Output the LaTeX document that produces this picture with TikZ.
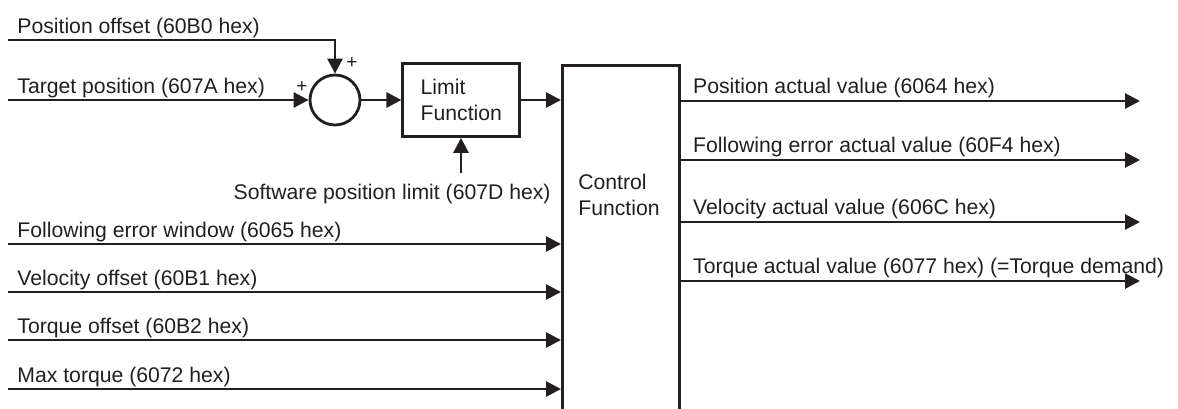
\documentclass[tikz,border=0pt]{standalone}
\usepackage{fontspec}
\setmainfont{Liberation Sans}
\usetikzlibrary{arrows.meta, positioning}

\definecolor{ink}{HTML}{231F20}

\tikzset{
    arr/.style={-{Triangle[length=7.5pt, width=7.5pt]}},
    lbl/.style={anchor=base west, inner sep=0pt,
        font=\fontsize{10.6}{12.7}\selectfont},
    sign/.style={inner sep=0pt, font=\fontsize{9.5}{11}\selectfont}
}

\begin{document}
\begin{tikzpicture}[x=0.5pt, y=-0.5pt, node distance=20pt, line width=1.4pt, color=ink]

    \useasboundingbox (0,0) rectangle (1178,408);
    \clip (0,0) rectangle (1178,408);

    \node[draw, circle, minimum size=25pt, inner sep=0pt] (sum) at (335,100) {};

    \node[
        draw,
        rectangle,
        minimum width=58.5pt,
        minimum height=36.5pt,
        align=left,
        font=\fontsize{10.6}{12.7}\selectfont,
        right=of sum
    ] (limit) {Limit\\Function};

    \node[
        draw,
        rectangle,
        minimum width=58.5pt,
        minimum height=185pt,
        anchor=north west
    ] (control) at (561,64) {};
    \node[align=left, font=\fontsize{10.6}{12.7}\selectfont]
        (ctrltext) at (619,195) {Control\\Function};

    % inputs on the left
    \coordinate (posoff) at (8,40);
    \coordinate (target) at (8,100);
    \node[lbl] at ([xshift=4pt, yshift=3.5pt]posoff) {Position offset (60B0 hex)};
    \node[lbl] at ([xshift=4pt, yshift=3.5pt]target) {Target position (607A hex)};
    \node[sign] at (302,87) {+};
    \node[sign] at (352,63) {+};

    \draw[arr] (posoff) -| (sum.north);
    \draw[arr] (target) -- (sum.west);
    \draw[arr] (sum) -- (limit);
    \draw[arr] (limit.east) -- (limit.east -| control.west);

    \coordinate (swlim) at (461,173);
    \node[lbl, anchor=base east] at (552,199) {Software position limit (607D hex)};
    \draw[arr] (swlim) -- (swlim |- limit.south);

    \coordinate (fewin) at (8,244);
    \coordinate (veloff) at (8,292);
    \coordinate (trqoff) at (8,340);
    \coordinate (maxtrq) at (8,389);
    \node[lbl] at ([xshift=4pt, yshift=3.5pt]fewin) {Following error window (6065 hex)};
    \node[lbl] at ([xshift=4pt, yshift=3.5pt]veloff) {Velocity offset (60B1 hex)};
    \node[lbl] at ([xshift=4pt, yshift=3.5pt]trqoff) {Torque offset (60B2 hex)};
    \node[lbl] at ([xshift=4pt, yshift=3.5pt]maxtrq) {Max torque (6072 hex)};

    \draw[arr] (fewin) -- (fewin -| control.west);
    \draw[arr] (veloff) -- (veloff -| control.west);
    \draw[arr] (trqoff) -- (trqoff -| control.west);
    \draw[arr] (maxtrq) -- (maxtrq -| control.west);

    % outputs on the right
    \coordinate (posact) at (1140,101);
    \coordinate (feact) at (1140,160);
    \coordinate (velact) at (1140,222);
    \coordinate (trqact) at (1140,281);
    \node[lbl] at ([xshift=5.5pt, yshift=4pt]posact -| control.east) {Position actual value (6064 hex)};
    \node[lbl] at ([xshift=5.5pt, yshift=4pt]feact -| control.east) {Following error actual value (60F4 hex)};
    \node[lbl] at ([xshift=5.5pt, yshift=4pt]velact -| control.east) {Velocity actual value (606C hex)};
    \node[lbl] at ([xshift=5.5pt, yshift=4pt]trqact -| control.east) {Torque actual value (6077 hex) (=Torque demand)};

    \draw[arr] (posact -| control.east) -- (posact);
    \draw[arr] (feact -| control.east) -- (feact);
    \draw[arr] (velact -| control.east) -- (velact);
    \draw[arr] (trqact -| control.east) -- (trqact);

\end{tikzpicture}
\end{document}
